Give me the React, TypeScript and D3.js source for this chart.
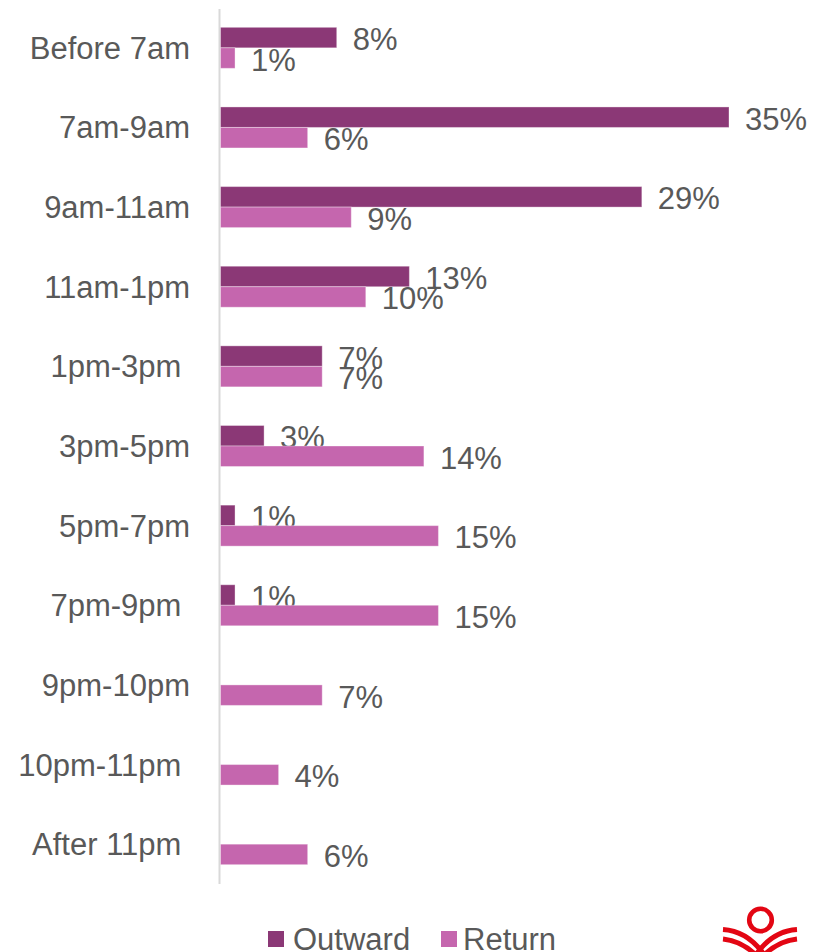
import React from "react";
import * as d3 from "d3";

const categories = [
  "Before 7am",
  "7am-9am",
  "9am-11am",
  "11am-1pm",
  "1pm-3pm ",
  "3pm-5pm",
  "5pm-7pm",
  "7pm-9pm ",
  "9pm-10pm",
  "10pm-11pm ",
  "After 11pm ",
];
const outward: (number | null)[] = [8, 35, 29, 13, 7, 3, 1, 1, null, null, null];
const returnVals: (number | null)[] = [1, 6, 9, 10, 7, 14, 15, 15, 7, 4, 6];
const seriesNames = ["Outward", "Return"];
const colors = ["#8B3876", "#C566AE"];

const W = 815;
const H = 952;
const FONT = "'Liberation Sans', Arial, sans-serif";
const TEXT = "#595959";

export default function App() {
  const x = d3.scaleLinear().domain([0, 35]).range([220.5, 729]);
  const y = d3.scaleBand<string>().domain(categories).range([8, 884]);
  const barH = 20.5;
  const series = [outward, returnVals];

  return (
    <svg
      width={W}
      height={H}
      style={{ position: "absolute", left: 0, top: 0, background: "#fff" }}
      fontFamily={FONT}
    >
      <line x1={219.5} x2={219.5} y1={9} y2={884} stroke="#d9d9d9" strokeWidth={2} />
      {categories.map((c) => {
        const cy = (y(c) as number) + y.bandwidth() / 2;
        return (
          <text
            key={c}
            x={190}
            y={cy + 11}
            textAnchor="end"
            fontSize={31}
            fill={TEXT}
            style={{ whiteSpace: "pre" }}
          >
            {c}
          </text>
        );
      })}
      {series.map((vals, si) =>
        vals.map((v, i) => {
          if (v == null) return null;
          const c = categories[i];
          const cy = (y(c) as number) + y.bandwidth() / 2;
          const top = si === 0 ? cy - barH : cy;
          const x0 = x(0);
          const x1 = x(v);
          return (
            <g key={`${si}-${i}`}>
              <rect
                x={x0}
                y={top}
                width={x1 - x0}
                height={barH}
                fill={colors[si]}
                stroke="#ffffff"
                strokeOpacity={0.35}
                strokeWidth={1}
              />
              <text
                x={x1 + 16}
                y={top + barH / 2 + 1.5 + 11}
                fontSize={31}
                fill={TEXT}
              >
                {`${v}%`}
              </text>
            </g>
          );
        })
      )}
      {/* legend */}
      <rect x={268} y={931} width={16} height={16} fill={colors[0]} />
      <text x={293} y={950} fontSize={31} fill={TEXT}>
        {seriesNames[0]}
      </text>
      <rect x={441} y={931} width={16} height={16} fill={colors[1]} />
      <text x={463} y={950} fontSize={31} fill={TEXT}>
        {seriesNames[1]}
      </text>
      {/* logo */}
      <g fill="none" stroke="#E30613">
        <circle cx={760.5} cy={920} r={11.3} strokeWidth={4.6} />
        <path d="M723,929.5 Q748,931 765,956" strokeWidth={5} />
        <path d="M723,939 Q742,941 757,956" strokeWidth={5} />
        <path d="M797,929.5 Q772,931 755,956" strokeWidth={5} />
        <path d="M797,939 Q778,941 763,956" strokeWidth={5} />
      </g>
    </svg>
  );
}
